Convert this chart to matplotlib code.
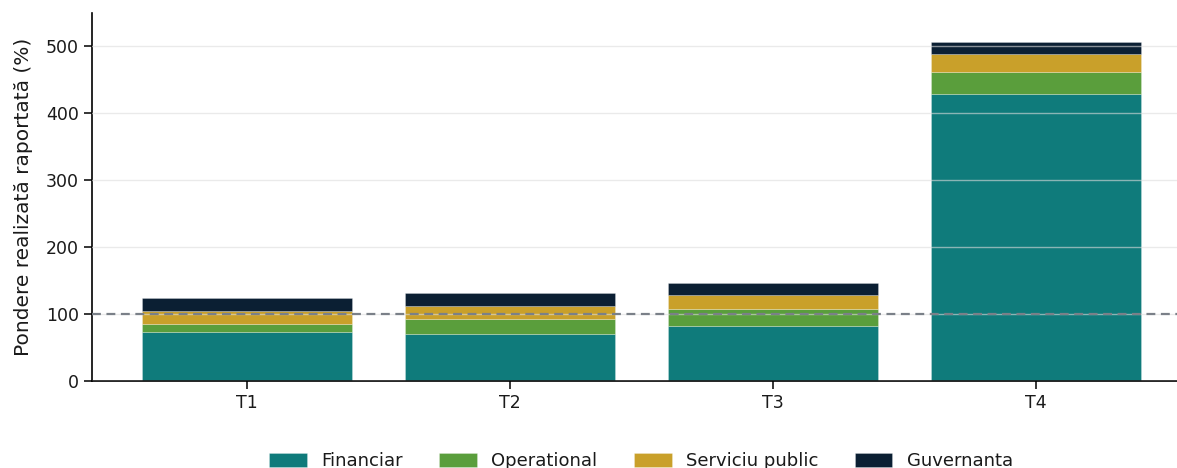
import matplotlib
matplotlib.use("Agg")
import matplotlib.pyplot as plt
import numpy as np

categories = ["T1", "T2", "T3", "T4"]
financiar = [73, 70, 82.5, 429]
operational = [12, 22, 25, 33]
serviciu_public = [19.5, 20, 20.5, 26]
guvernanta = [19.5, 19, 19, 19]
series_names = ["Financiar", "Operational", "Serviciu public", "Guvernanta"]
colors = ["#0f7b7b", "#5a9e3c", "#c9a02a", "#0b1f33"]

plt.rcParams["text.color"] = "#1a1a1a"
plt.rcParams["xtick.labelcolor"] = "#1a1a1a"
plt.rcParams["ytick.labelcolor"] = "#1a1a1a"
plt.rcParams["axes.labelcolor"] = "#1a1a1a"

fig = plt.figure(figsize=(11.77, 4.68), dpi=100)
ax = fig.add_axes([92/1177, 1 - 381/468, (1177 - 92)/1177, (381 - 13)/468])

x = np.arange(len(categories))
bottom = np.zeros(len(categories))
for name, vals, c in zip(series_names, [financiar, operational, serviciu_public, guvernanta], colors):
    ax.bar(x, vals, width=0.8, bottom=bottom, color=c, label=name,
           edgecolor=(1, 1, 1, 0.35), linewidth=0.5, zorder=1)
    bottom += np.array(vals)

ax.axhline(100, color="#7a8088", linestyle=(0, (4, 2.5)), linewidth=1.6, zorder=3)
ax.set_axisbelow(False)
ax.yaxis.grid(True, color="#dddddd", alpha=0.6, linewidth=1, zorder=2)

ax.set_xlim(-0.59, 3.536)
ax.set_ylim(0, 550)
ax.set_xticks(x)
ax.set_xticklabels(categories)
ax.set_yticks([0, 100, 200, 300, 400, 500])
ax.tick_params(axis="both", labelsize=12.5, length=6, width=1.1)
ax.set_ylabel("Pondere realizată raportată (%)", fontsize=14.5, labelpad=9)
for s in ["top", "right"]:
    ax.spines[s].set_visible(False)
ax.spines["left"].set_linewidth(1.2)
ax.spines["bottom"].set_linewidth(1.2)

ax.legend(loc="upper center", bbox_to_anchor=(0.506, -0.15), ncol=4, frameon=False,
          fontsize=13, handlelength=2.1, handleheight=0.8, columnspacing=2.0)

fig.savefig("out.png", dpi=100)
